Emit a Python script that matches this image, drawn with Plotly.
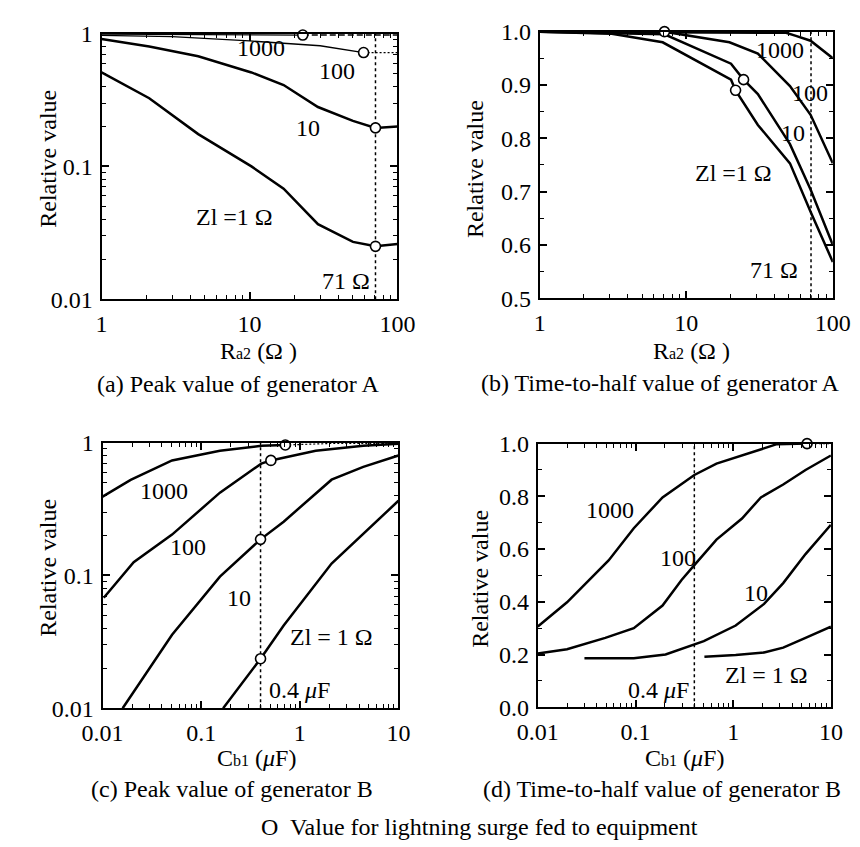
import numpy as np
import plotly.graph_objects as go

W, H = 860, 847
FONT = "Liberation Serif"

# ---------------- data ----------------
# (a) Peak value of generator A, vs Ra2 (ohm)
a_x = [1, 2.1, 4.5, 10.3, 17, 29, 50, 71, 100]
a_zl1 = [0.51, 0.326, 0.175, 0.100, 0.068, 0.0367, 0.027, 0.025, 0.026]
a_zl10 = [0.91, 0.80, 0.675, 0.51, 0.41, 0.28, 0.22, 0.195, 0.20]
a_zl100_x = [1, 3, 10, 30, 59]
a_zl100 = [0.97, 0.95, 0.88, 0.81, 0.72]
a_zl100_tail_x = [59, 100]
a_zl100_tail = [0.72, 0.72]
a_zl1000_x = [1, 10, 22.9]
a_zl1000 = [0.99, 0.985, 0.975]
a_zl1000_tail_x = [22.9, 100]
a_zl1000_tail = [0.975, 0.975]
a_mark_x = [22.9, 59, 71, 71]
a_mark_y = [0.975, 0.72, 0.195, 0.025]
a_ref = 71

# (b) Time-to-half value of generator A, vs Ra2 (ohm)
b_zl1_x = [1, 3.1, 6.9, 20.2, 21.7, 30.8, 51, 70.5, 100]
b_zl1 = [1.0, 0.996, 0.98, 0.91, 0.89, 0.825, 0.753, 0.662, 0.568]
b_zl10_x = [1, 7.1, 20.2, 24.6, 30.8, 51, 70.5, 100]
b_zl10 = [1.0, 0.995, 0.94, 0.91, 0.883, 0.789, 0.704, 0.60]
b_zl100_x = [1, 7.1, 19.7, 30.8, 51, 70.5, 100]
b_zl100 = [1.0, 1.0, 0.98, 0.959, 0.898, 0.844, 0.753]
b_zl1000_x = [1, 48, 56, 70.5, 100]
b_zl1000 = [1.0, 0.998, 0.992, 0.983, 0.95]
b_mark_x = [7.1, 24.6, 21.7]
b_mark_y = [1.0, 0.91, 0.89]
b_ref = 71

# (c) Peak value of generator B, vs Cb1 (uF)
c_zl1000_x = [0.0097, 0.0193, 0.0507, 0.155, 0.407, 0.713]
c_zl1000 = [0.386, 0.525, 0.735, 0.87, 0.946, 0.96]
c_zl1000_tail_x = [0.713, 2, 10]
c_zl1000_tail = [0.96, 0.985, 0.99]
c_zl100_x = [0.0103, 0.0207, 0.0507, 0.155, 0.407, 0.509, 1.45, 4.4, 10]
c_zl100 = [0.068, 0.126, 0.203, 0.42, 0.695, 0.735, 0.87, 0.946, 0.98]
c_zl10_x = [0.016, 0.0507, 0.155, 0.40, 0.686, 2.1, 4.4, 10]
c_zl10 = [0.01, 0.0358, 0.098, 0.187, 0.254, 0.526, 0.657, 0.80]
c_zl1_x = [0.167, 0.40, 0.686, 2.1, 10]
c_zl1 = [0.01, 0.0236, 0.042, 0.123, 0.365]
c_mark_x = [0.713, 0.509, 0.40, 0.40]
c_mark_y = [0.96, 0.735, 0.187, 0.0236]
c_ref = 0.4

# (d) Time-to-half value of generator B, vs Cb1 (uF)
d_zl1000_x = [0.01, 0.0199, 0.053, 0.096, 0.189, 0.319, 0.40, 0.674, 1.79, 2.8, 5.7]
d_zl1000 = [0.306, 0.398, 0.557, 0.679, 0.796, 0.857, 0.881, 0.924, 0.973, 0.998, 1.0]
d_zl1000_tail_x = [5.7, 10]
d_zl1000_tail = [1.0, 1.0]
d_zl100_x = [0.01, 0.0199, 0.049, 0.096, 0.189, 0.296, 0.40, 0.674, 1.23, 1.92, 3.25, 5.5, 10]
d_zl100 = [0.204, 0.220, 0.263, 0.30, 0.386, 0.483, 0.539, 0.636, 0.716, 0.796, 0.845, 0.90, 0.955]
d_zl10_x = [0.030, 0.096, 0.203, 0.40, 0.50, 1.06, 2.07, 3.25, 5.5, 10]
d_zl10 = [0.186, 0.186, 0.20, 0.239, 0.251, 0.31, 0.392, 0.471, 0.581, 0.692]
d_zl1_x = [0.507, 1.06, 2.07, 3.25, 5.5, 10]
d_zl1 = [0.192, 0.198, 0.208, 0.226, 0.263, 0.306]
d_mark_x = [5.7]
d_mark_y = [1.0]
d_ref = 0.4

# ---------------- layout helpers ----------------
def px(x):
    return x / W

def py(y):
    return 1 - y / H

panels = {
    "a": dict(xa="xaxis", ya="yaxis", xd=[76, 386], yd=[13, 287]),
    "b": dict(xa="xaxis2", ya="yaxis2", xd=[535, 842], yd=[11, 286]),
    "c": dict(xa="xaxis3", ya="yaxis3", xd=[77, 387], yd=[435, 709]),
    "d": dict(xa="xaxis4", ya="yaxis4", xd=[533, 840], yd=[436, 708]),
}
refs = {"a": ("x", "y"), "b": ("x2", "y2"), "c": ("x3", "y3"), "d": ("x4", "y4")}

fig = go.Figure()

LW = 2.5

def line(panel, x, y, width=LW, dash="solid"):
    xr, yr = refs[panel]
    fig.add_trace(go.Scatter(x=x, y=y, mode="lines", xaxis=xr, yaxis=yr,
                             line=dict(color="black", width=width, dash=dash),
                             showlegend=False, hoverinfo="skip"))

def marks(panel, x, y):
    xr, yr = refs[panel]
    fig.add_trace(go.Scatter(x=x, y=y, mode="markers", xaxis=xr, yaxis=yr,
                             marker=dict(symbol="circle", size=10, color="white",
                                         line=dict(color="black", width=1.6)),
                             showlegend=False, hoverinfo="skip", cliponaxis=False))

def vref(panel, xv, y0, y1):
    line(panel, [xv, xv], [y0, y1], width=1.5, dash="3px,3px")

# (a)
vref("a", a_ref, 0.01, 1)
line("a", a_x, a_zl1)
line("a", a_x, a_zl10)
line("a", a_zl100_x, a_zl100, width=1.3)
line("a", a_zl100_tail_x, a_zl100_tail, width=1.2, dash="2px,2px")
line("a", a_zl1000_x, a_zl1000, width=1.3)
line("a", a_zl1000_tail_x, a_zl1000_tail, width=1.5, dash="6px,3px")
marks("a", a_mark_x, a_mark_y)

# (b)
vref("b", b_ref, 0.5, 1.0)
line("b", b_zl1_x, b_zl1)
line("b", b_zl10_x, b_zl10)
line("b", b_zl100_x, b_zl100)
line("b", b_zl1000_x, b_zl1000)
marks("b", b_mark_x, b_mark_y)

# (c)
vref("c", c_ref, 0.01, 1)
line("c", c_zl1000_x, c_zl1000)
line("c", c_zl1000_tail_x, c_zl1000_tail, width=1.2, dash="2px,2px")
line("c", c_zl100_x, c_zl100)
line("c", c_zl10_x, c_zl10)
line("c", c_zl1_x, c_zl1)
marks("c", c_mark_x, c_mark_y)

# (d)
vref("d", d_ref, 0.0, 1.0)
line("d", d_zl1000_x, d_zl1000)
line("d", d_zl1000_tail_x, d_zl1000_tail, width=1.2, dash="2px,2px")
line("d", d_zl100_x, d_zl100)
line("d", d_zl10_x, d_zl10)
line("d", d_zl1_x, d_zl1)
marks("d", d_mark_x, d_mark_y)

# ---------------- axes ----------------
TF = dict(family=FONT, size=24, color="black")

def log_minor(lo_exp, hi_exp):
    vals = []
    for e in range(lo_exp, hi_exp):
        for m in range(2, 10):
            vals.append(m * 10.0 ** e)
    return vals

def axis_common(dom):
    return dict(domain=dom, showgrid=False, zeroline=False, showline=True,
                linecolor="black", linewidth=2, mirror="allticks",
                ticks="inside", ticklen=7, tickwidth=1.5, tickcolor="black",
                tickfont=TF, ticklabelstandoff=2)

layout = {}
for key, p in panels.items():
    layout[p["xa"]] = axis_common([px(p["xd"][0]), px(p["xd"][1])])
    layout[p["ya"]] = axis_common([py(p["yd"][1]), py(p["yd"][0])])
    layout[p["xa"]]["anchor"] = refs[key][1]
    layout[p["ya"]]["anchor"] = refs[key][0]

minor_log = lambda lo, hi: dict(tickvals=log_minor(lo, hi), ticks="inside", ticklen=4,
                                tickcolor="black", tickwidth=1.2)

# (a)
layout["xaxis"].update(type="log", range=[0, 2.0], tickvals=[1, 10, 100],
                       ticktext=["1", "10", "100"], minor=minor_log(0, 2))
layout["yaxis"].update(type="log", range=[-2, 0], tickvals=[0.01, 0.1, 1],
                       ticktext=["0.01", "0.1", "1"], minor=minor_log(-2, 0))
# (b)
layout["xaxis2"].update(type="log", range=[0, 2.0], tickvals=[1, 10, 100],
                        ticktext=["1", "10", "100"], minor=minor_log(0, 2))
layout["yaxis2"].update(range=[0.5, 1.0], dtick=0.1, tick0=0.5, tickformat=".1f",
                        minor=dict(dtick=0.05, ticks="inside", ticklen=4,
                                   tickcolor="black", tickwidth=1.2))
# (c)
layout["xaxis3"].update(type="log", range=[-2, 1], tickvals=[0.01, 0.1, 1, 10],
                        ticktext=["0.01", "0.1", "1", "10"], minor=minor_log(-2, 1))
layout["yaxis3"].update(type="log", range=[-2, 0], tickvals=[0.01, 0.1, 1],
                        ticktext=["0.01", "0.1", "1"], minor=minor_log(-2, 0))
# (d)
layout["xaxis4"].update(type="log", range=[-2, 1], tickvals=[0.01, 0.1, 1, 10],
                        ticktext=["0.01", "0.1", "1", "10"], minor=minor_log(-2, 1))
layout["yaxis4"].update(range=[0, 1.0], dtick=0.2, tick0=0, tickformat=".1f",
                        minor=dict(dtick=0.1, ticks="inside", ticklen=4,
                                   tickcolor="black", tickwidth=1.2))

fig.update_layout(**layout)

# ---------------- text ----------------
ann = []

def txt(s, x, y, size=24, angle=0):
    ann.append(dict(text=s, x=px(x), y=py(y), xref="paper", yref="paper",
                    showarrow=False, xanchor="center", yanchor="middle",
                    font=dict(family=FONT, size=size, color="black"), textangle=angle))

small = "<span style='font-size:16px'>%s</span>"
ra2 = "R" + small % "a2" + " (Ω )"
cb1 = "C" + small % "b1" + " (<i>μ</i>F)"

# axis titles
txt("Relative value", 20, 142, angle=-90)
txt("Relative value", 468, 153, angle=-90)
txt("Relative value", 20, 564, angle=-90)
txt("Relative value", 473, 576, angle=-90)
txt(ra2, 240, 340)
txt(ra2, 694, 340)
txt(cb1, 238, 760)
txt(cb1, 687, 760)

# captions
txt("(a) Peak value of generator A", 219, 375)
txt("(b) Time-to-half value of generator A", 662, 373)
txt("(c) Peak value of generator B", 213, 792)
txt("(d) Time-to-half value of generator B", 663, 792)
txt("O  Value for lightning surge fed to equipment", 472, 832)

# curve labels (a)
txt("1000", 243, 28)
txt("100", 323, 52)
txt("10", 292, 110)
txt("Zl =1 Ω", 215, 202)
txt("71 Ω", 332, 268)
# (b)
txt("1000", 787, 30)
txt("100", 818, 74)
txt("10", 800, 116)
txt("Zl =1 Ω", 738, 157)
txt("71 Ω", 780, 257)
# (c)
txt("1000", 141, 485)
txt("100", 167, 543)
txt("10", 220, 595)
txt("Zl = 1 Ω", 317, 635)
txt("0.4 <i>μ</i>F", 283, 690)
# (d)
txt("1000", 609, 504)
txt("100", 680, 554)
txt("10", 762, 590)
txt("Zl = 1 Ω", 773, 675)
txt("0.4 <i>μ</i>F", 659, 690)

fig.update_layout(annotations=ann, width=W, height=H,
                  margin=dict(l=0, r=0, t=0, b=0),
                  paper_bgcolor="white", plot_bgcolor="white",
                  font=dict(family=FONT, color="black"), showlegend=False)

fig.write_html("out.html")
